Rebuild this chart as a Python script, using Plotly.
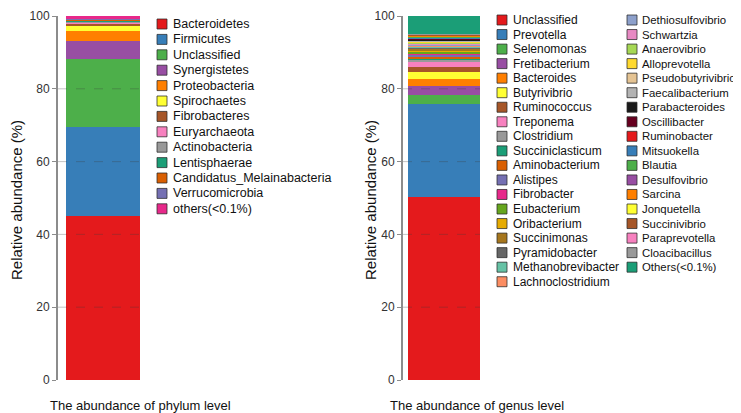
import plotly.graph_objects as go

# ---------------- data ----------------
phylum_names = ["Bacteroidetes", "Firmicutes", "Unclassified", "Synergistetes", "Proteobacteria",
                "Spirochaetes", "Fibrobacteres", "Euryarchaeota", "Actinobacteria", "Lentisphaerae",
                "Candidatus_Melainabacteria", "Verrucomicrobia", "others(<0.1%)"]
phylum_values = [45.0, 24.5, 18.7, 5.0, 2.8, 1.3, 0.55, 0.35, 0.3, 0.3, 0.2, 0.15, 0.85]
phylum_colors = ["#E41A1C", "#377EB8", "#4DAF4A", "#984EA3", "#FF7F00", "#FFFF33", "#A65628",
                 "#F781BF", "#999999", "#1B9E77", "#D95F02", "#7570B3", "#E7298A"]

genus_names = ["Unclassified", "Prevotella", "Selenomonas", "Fretibacterium", "Bacteroides",
               "Butyrivibrio", "Ruminococcus", "Treponema", "Clostridium", "Succiniclasticum",
               "Aminobacterium", "Alistipes", "Fibrobacter", "Eubacterium", "Oribacterium",
               "Succinimonas", "Pyramidobacter", "Methanobrevibacter", "Lachnoclostridium",
               "Dethiosulfovibrio", "Schwartzia", "Anaerovibrio", "Alloprevotella",
               "Pseudobutyrivibrio", "Faecalibacterium", "Parabacteroides", "Oscillibacter",
               "Ruminobacter", "Mitsuokella", "Blautia", "Desulfovibrio", "Sarcina", "Jonquetella",
               "Succinivibrio", "Paraprevotella", "Cloacibacillus", "Others(<0.1%)"]
genus_values = [50.3, 25.4, 2.7, 2.5, 1.8, 1.8, 1.4, 1.4, 0.6, 0.55,
                0.5, 0.45, 0.42, 0.4, 0.38, 0.35, 0.33, 0.3, 0.28,
                0.27, 0.26, 0.25, 0.24, 0.23, 0.22, 0.21, 0.2,
                0.19, 0.18, 0.17, 0.16, 0.15, 0.14, 0.13, 0.12, 0.11, 4.9]
genus_colors = ["#E41A1C", "#377EB8", "#4DAF4A", "#984EA3", "#FF7F00", "#FFFF33", "#A65628",
                "#F781BF", "#999999", "#1B9E77", "#D95F02", "#7570B3", "#E7298A", "#66A61E",
                "#E6AB02", "#A6761D", "#666666", "#66C2A5", "#FC8D62", "#8DA0CB", "#E78AC3",
                "#A6D854", "#FFD92F", "#E5C494", "#B3B3B3", "#1A1A1A", "#67001F", "#E41A1C",
                "#377EB8", "#4DAF4A", "#984EA3", "#FF7F00", "#FFFF33", "#A65628", "#F781BF",
                "#999999", "#1B9E77"]

y_ticks = [0, 20, 40, 60, 80, 100]
x_titles = ["The abundance of phylum level", "The abundance of genus level"]
y_title = "Relative abundance (%)"

# ---------------- layout helpers ----------------
W, H = 741, 413
OFF = 8  # page body margin
TOP, BOT = 16 - OFF, 380 - OFF
FONT = "Liberation Sans, Arial, sans-serif"


def px_x(px):
    return (px - OFF) / W


def px_y(py):
    return (BOT - (py - OFF)) / (BOT - TOP)


fig = go.Figure()
for name, val, col in zip(phylum_names, phylum_values, phylum_colors):
    fig.add_trace(go.Bar(x=[0], y=[val], width=0.9, name=name, marker=dict(color=col, line=dict(width=0)),
                         xaxis="x", yaxis="y", showlegend=False, hovertemplate=name + ": %{y}<extra></extra>"))
for name, val, col in zip(genus_names, genus_values, genus_colors):
    fig.add_trace(go.Bar(x=[0], y=[val], width=0.9, name=name, marker=dict(color=col, line=dict(width=0)),
                         xaxis="x2", yaxis="y2", showlegend=False, hovertemplate=name + ": %{y}<extra></extra>"))

yax = dict(range=[0, 100], tickvals=y_ticks, showline=True, linecolor="#8c8c8c", linewidth=2,
           ticks="outside", ticklen=4, tickcolor="#8c8c8c", tickwidth=1, showgrid=False, zeroline=False,
           tickfont=dict(family=FONT, size=12, color="#333333"))

shapes = []
annotations = []

# dashed gridlines over bars
for xr, yr in [("x domain", "y"), ("x2 domain", "y2")]:
    for t in y_ticks[1:-1]:
        shapes.append(dict(type="line", xref=xr, yref=yr, x0=0, x1=1, y0=t, y1=t, layer="above",
                           line=dict(color="rgba(60,60,60,0.3)", width=1, dash="dash")))


def add_legend(names, colors, x_sq, y_start, step, fsize, gap=14):
    for i, (n, c) in enumerate(zip(names, colors)):
        yc = y_start + i * step
        shapes.append(dict(type="rect", xref="paper", yref="paper",
                           x0=px_x(x_sq), x1=px_x(x_sq + 10), y0=px_y(yc + 5), y1=px_y(yc - 5),
                           fillcolor=c, line=dict(color="rgba(40,40,40,0.75)", width=1), layer="above"))
        annotations.append(dict(text=n, xref="paper", yref="paper", x=px_x(x_sq + gap), y=px_y(yc),
                                xanchor="left", yanchor="middle", showarrow=False,
                                font=dict(family=FONT, size=fsize, color="#111111")))


add_legend(phylum_names, phylum_colors, 157, 24, 15.4, 12.5)
add_legend(genus_names[:19], genus_colors[:19], 497, 20, 14.54, 12)
add_legend(genus_names[19:], genus_colors[19:], 627, 20, 14.54, 11.4, gap=13)

# axis titles
for xp in [16, 370]:
    annotations.append(dict(text=y_title, xref="paper", yref="paper", x=px_x(xp), y=px_y(200),
                            xanchor="center", yanchor="middle", textangle=-90, showarrow=False,
                            font=dict(family=FONT, size=15, color="#111111")))
for xp, t in zip([48, 388], x_titles):
    annotations.append(dict(text=t, xref="paper", yref="paper", x=px_x(xp), y=px_y(405),
                            xanchor="left", yanchor="middle", showarrow=False,
                            font=dict(family=FONT, size=13, color="#111111")))

fig.update_layout(
    width=W, height=H, barmode="stack", bargap=0,
    margin=dict(l=0, r=0, t=TOP, b=H - BOT, pad=0),
    plot_bgcolor="white", paper_bgcolor="white",
    xaxis=dict(domain=[px_x(58), px_x(140)], range=[-0.55, 0.45], visible=False, fixedrange=True),
    xaxis2=dict(domain=[px_x(403), px_x(480)], range=[-0.5125, 0.45], visible=False, fixedrange=True),
    yaxis=dict(anchor="x", **yax),
    yaxis2=dict(anchor="x2", **yax),
    shapes=shapes, annotations=annotations, showlegend=False,
)

fig.write_html("out.html")
